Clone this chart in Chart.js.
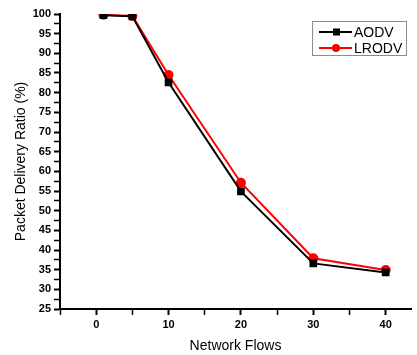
<!DOCTYPE html>
<html>
<head>
<meta charset="utf-8">
<script src="https://cdn.jsdelivr.net/npm/chart.js@4"></script>
<style>
  html, body { margin: 0; padding: 0; background: #fff; }
  #wrap { width: 417px; height: 355px; }
</style>
</head>
<body>
<div id="wrap"><canvas id="chartjs" width="417" height="355"></canvas></div>
<script>
// Данные
let flows = [1, 5, 10, 20, 30, 40];
let aodv = [99.7, 99.4, 82.6, 54.9, 36.6, 34.3];
let lrodv = [99.8, 99.5, 84.5, 57.1, 37.9, 34.9];

let xTitle = 'Network Flows';
let yTitle = 'Packet Delivery Ratio (%)';

let canvas = document.getElementById('chartjs');
let context = canvas.getContext('2d');

const toPoints = (ys) => flows.map((x, i) => ({ x: x, y: ys[i] }));

// Легенда в рамке, как в оригинале
const boxLegend = {
    id: 'boxLegend',
    afterDraw(chart) {
        let ctx = chart.ctx;
        let left = 312, top = 21, w = 94, h = 34;
        ctx.save();
        ctx.fillStyle = '#fff';
        ctx.fillRect(left, top, w, h);
        ctx.strokeStyle = '#8c8c8c';
        ctx.lineWidth = 1;
        ctx.strokeRect(left + 0.5, top + 0.5, w, h);
        chart.data.datasets.forEach((ds, i) => {
            let y = 32 + i * 16;
            ctx.strokeStyle = ds.borderColor;
            ctx.lineWidth = 2;
            ctx.beginPath();
            ctx.moveTo(319, y);
            ctx.lineTo(352, y);
            ctx.stroke();
            ctx.fillStyle = ds.borderColor;
            if (ds.pointStyle === 'rect') {
                ctx.fillRect(333, y - 3.5, 7, 7);
            } else {
                ctx.beginPath();
                ctx.arc(336, y, 4, 0, Math.PI * 2);
                ctx.fill();
            }
            ctx.fillStyle = '#000';
            ctx.font = '14px "Liberation Sans", Arial, sans-serif';
            ctx.textBaseline = 'middle';
            ctx.fillText(ds.label, 354, y + 1);
        });
        ctx.restore();
    }
};

let config = {
    type: 'line',
    data: {
        datasets: [
            {
                label: 'AODV',
                data: toPoints(aodv),
                borderColor: '#000000',
                backgroundColor: '#000000',
                borderWidth: 2,
                pointStyle: 'rect',
                pointRadius: 4,
                pointHoverRadius: 4
            }, {
                label: 'LRODV',
                data: toPoints(lrodv),
                borderColor: '#ff0000',
                backgroundColor: '#ff0000',
                borderWidth: 2,
                pointStyle: 'circle',
                pointRadius: 4,
                pointHoverRadius: 4
            }
        ]
    },
    options: {
        responsive: false,
        animation: false,
        layout: { padding: { top: 14, right: 1, left: 0, bottom: 0 } },
        scales: {
            x: {
                type: 'linear',
                min: -5,
                max: 43.5,
                ticks: {
                    stepSize: 5,
                    includeBounds: false,
                    autoSkip: false,
                    maxRotation: 0,
                    padding: 3,
                    color: '#000',
                    font: { family: '"Liberation Sans", Arial, sans-serif', size: 11, weight: 'bold' },
                    callback: (v) => (v % 10 === 0 && v >= 0) ? v : ''
                },
                grid: {
                    drawOnChartArea: false,
                    tickLength: 6,
                    tickColor: '#000',
                    tickWidth: (c) => (c.tick && c.tick.value % 10 === 0) ? 2 : 1.5
                },
                border: { color: '#000', width: 2 },
                title: {
                    display: true,
                    text: xTitle,
                    color: '#000',
                    font: { family: '"Liberation Sans", Arial, sans-serif', size: 14 },
                    padding: { top: 7, bottom: 0 }
                },
                afterFit: (scale) => { scale.height = 46; }
            },
            y: {
                min: 25,
                max: 100,
                ticks: {
                    stepSize: 2.5,
                    autoSkip: false,
                    padding: 3,
                    color: '#000',
                    font: { family: '"Liberation Sans", Arial, sans-serif', size: 11, weight: 'bold' },
                    callback: (v) => v % 5 === 0 ? v : ''
                },
                grid: {
                    drawOnChartArea: false,
                    tickLength: 6,
                    tickColor: '#000',
                    tickWidth: (c) => (c.tick && c.tick.value % 5 === 0) ? 2 : 1.5
                },
                border: { color: '#000', width: 2 },
                title: {
                    display: true,
                    text: yTitle,
                    color: '#000',
                    font: { family: '"Liberation Sans", Arial, sans-serif', size: 14 },
                    padding: { top: 13, bottom: 4 }
                },
                afterFit: (scale) => { scale.width = 60; }
            }
        },
        plugins: {
            legend: { display: false },
            tooltip: { enabled: false }
        }
    },
    plugins: [boxLegend]
};

let chart = new Chart(context, config);
</script>
</body>
</html>
